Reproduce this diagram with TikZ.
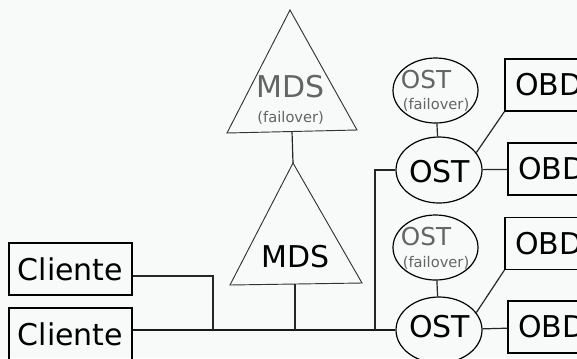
\documentclass[tikz,border=0pt]{standalone}
\usepackage{fontspec}
\setmainfont{DejaVu Sans}
\usetikzlibrary{shapes.geometric}
\definecolor{bg}{RGB}{248,250,250}
\definecolor{gtext}{RGB}{100,100,100}
\begin{document}
\begin{tikzpicture}[x=0.75pt,y=-0.75pt,
  ln/.style={line width=0.9pt, draw=black!85},
  busln/.style={line width=1.1pt, draw=black!90},
  tri/.style={line width=0.7pt, draw=black!80},
  bigtxt/.style={inner sep=0, font=\fontsize{22.5}{27}\selectfont},
  midtxt/.style={inner sep=0, font=\fontsize{18.5}{22}\selectfont, text=gtext},
  smalltxt/.style={inner sep=0, font=\fontsize{11}{13}\selectfont},
  clbox/.style={draw, line width=0.9pt, inner sep=0, minimum width=92.25pt, minimum height=39pt, font=\fontsize{22.5}{27}\selectfont},
  obdbox/.style={draw, line width=0.9pt, inner sep=0, minimum width=66pt, minimum height=39pt, font=\fontsize{22.5}{27}\selectfont},
  ostell/.style={draw, ellipse, line width=0.9pt, inner sep=0, minimum width=64.5pt, minimum height=49.5pt},
  fell/.style={draw, ellipse, line width=0.9pt, inner sep=0, minimum width=63.75pt, minimum height=48.75pt}]
\fill[bg] (0,0) rectangle (577,358);
\useasboundingbox (0,0) rectangle (577,358);

% Clients
\node[clbox] (cl1) at (70.5,269) {Cliente};
\node[clbox] (cl2) at (70.5,334) {Cliente};

% MDS triangles
\coordinate (ta) at (290,10);
\coordinate (tl) at (227,133);
\coordinate (tr) at (357,130);
\coordinate (tb) at (292,131.5);
\draw[tri] (ta) -- (tl) -- (tr) -- cycle;
\node[bigtxt, anchor=base, text=gtext] (mdsf) at (290.7,97) {MDS};
\node[smalltxt, anchor=base, text=gtext] (mdsfl) at (290.7,122) {(failover)};

\coordinate (la) at (293,163);
\coordinate (ll) at (230,285);
\coordinate (lr) at (362,283);
\coordinate (lb) at (295,284);
\draw[tri] (la) -- (ll) -- (lr) -- cycle;
\node[bigtxt, anchor=base] (mds) at (295.7,267) {MDS};
\draw[ln] (tb) -- (la);

% OST upper group
\node[fell] (f1) at (435.5,90.5) {};
\node[midtxt, anchor=base] (f1a) at (426,88) {OST};
\node[smalltxt, anchor=base, text=gtext] (f1b) at (436,109) {(failover)};
\node[ostell] (ost1) at (439,170) {};
\node[bigtxt, anchor=base] (ost1t) at (439.5,182) {OST};
\node[obdbox] (obd1) at (549,85) {OBD};
\node[obdbox] (obd2) at (552,169) {OBD};

% OST lower group
\node[fell] (f2) at (435.5,247.5) {};
\node[midtxt, anchor=base] (f2a) at (426,245) {OST};
\node[smalltxt, anchor=base, text=gtext] (f2b) at (436,267) {(failover)};
\node[ostell] (ost2) at (439,330) {};
\node[bigtxt, anchor=base] (ost2t) at (439.5,337) {OST};
\node[obdbox] (obd3) at (549,243.5) {OBD};
\node[obdbox] (obd4) at (552,327) {OBD};

% connectors
\draw[ln] (f1) -- (ost1);
\draw[ln] (f2) -- (ost2);
\draw[ln] (ost1.25) -- (obd1.south west);
\draw[ln] (ost1) -- (obd2);
\draw[ln] (ost2.25) -- (obd3.south west);
\draw[ln] (ost2) -- (obd4);

% bus
\draw[busln] (cl2.east |- ost2.west) -- (ost2.west);
\coordinate (j1) at (213,330);
\draw[ln] ([yshift=-5.25pt]cl1.east) -| (j1);
\draw[ln] (lb) -- (lb |- ost2.west);
\coordinate (j3) at (375,330);
\draw[ln] (j3) |- (ost1.west);
\end{tikzpicture}
\end{document}
